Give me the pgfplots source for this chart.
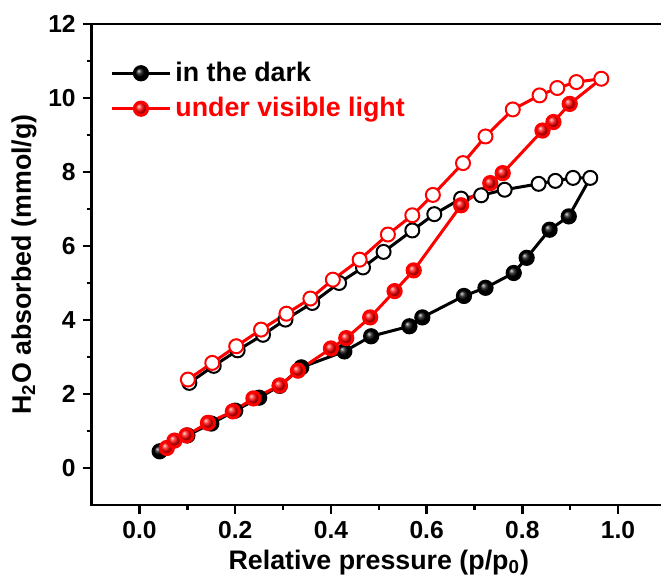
\documentclass[border=0pt]{standalone}
\usepackage{fontspec}
\setmainfont{Liberation Sans}
\usepackage{pgfplots}
\pgfplotsset{compat=1.18}

\pgfplotstableread{
x y
0.042 0.45
0.100 0.88
0.150 1.20
0.200 1.55
0.250 1.90
0.293 2.22
0.338 2.72
0.428 3.15
0.484 3.56
0.564 3.83
0.591 4.07
0.678 4.65
0.723 4.87
0.782 5.27
0.809 5.68
0.857 6.44
0.897 6.80
}\darkads

\pgfplotstableread{
x y
0.942 7.84
0.906 7.84
0.869 7.76
0.834 7.68
0.763 7.52
0.714 7.37
0.672 7.28
0.616 6.86
0.570 6.42
0.510 5.84
0.467 5.42
0.417 5.00
0.361 4.46
0.305 4.01
0.258 3.60
0.205 3.18
0.155 2.76
0.104 2.30
}\darkdes

\pgfplotstableread{
x y
0.057 0.54
0.073 0.74
0.098 0.88
0.143 1.22
0.195 1.53
0.238 1.88
0.293 2.23
0.331 2.63
0.400 3.23
0.432 3.51
0.482 4.07
0.533 4.78
0.573 5.34
0.672 7.10
0.733 7.70
0.759 7.97
0.842 9.12
0.865 9.35
0.899 9.84
}\lightads

\pgfplotstableread{
x y
0.965 10.52
0.913 10.43
0.873 10.27
0.836 10.07
0.780 9.69
0.723 8.96
0.676 8.24
0.613 7.38
0.570 6.83
0.519 6.31
0.460 5.63
0.404 5.09
0.357 4.58
0.307 4.17
0.254 3.74
0.202 3.29
0.152 2.84
0.101 2.39
}\lightdes

\begin{document}
\begin{tikzpicture}
\begin{axis}[
  at={(0,0)}, anchor=south west,
  scale only axis, width=287.1pt, height=240.5pt,
  xmin=-0.1, xmax=1.1, ymin=-1, ymax=12,
  xtick={0,0.2,...,1.0}, ytick={0,2,...,12},
  minor x tick num=1, minor y tick num=1,
  tick pos=left, tick align=outside,
  major tick length=4.5pt, minor tick length=2.5pt,
  every tick/.style={black, line width=1.2pt},
  axis line style={line width=1.3pt},
  /pgf/number format/assume math mode=true,
  xticklabel style={/pgf/number format/.cd, fixed, fixed zerofill, precision=1},
  tick label style={font=\fontsize{12.3}{14}\selectfont\bfseries},
  label style={font=\fontsize{13.4}{15}\selectfont\bfseries},
  xlabel style={yshift=1pt},
  ylabel style={yshift=-1pt},
  xlabel={Relative pressure (p/p\textsubscript{0})},
  ylabel={H\textsubscript{2}O absorbed (mmol/g)},
  legend style={draw=none, fill=none, at={(axis description cs:0.032,0.93)}, anchor=north west,
    font=\fontsize{13.4}{15}\selectfont\bfseries, row sep=2.5pt, inner sep=0pt},
  legend cell align=left,
  legend image code/.code={\draw[#1, mark repeat=2, mark phase=2] plot coordinates {(0pt,0pt) (14.5pt,0pt) (29pt,0pt)};},
  every axis plot/.append style={line width=1.5pt},
]
% adsorption branch, dark
\addplot[black, mark=ball, mark size=3.3pt, mark options={ball color=black}] table {\darkads};
\addlegendentry{in the dark}
\addplot[black, forget plot] coordinates {(0.897,6.80) (0.942,7.84)};
% desorption branch, dark
\addplot[black, mark=*, mark size=3.5pt, mark options={fill=white, line width=1pt}, forget plot] table {\darkdes};
% adsorption branch, visible light
\addplot[red, mark=ball, mark size=3.3pt, mark options={ball color=red}] table {\lightads};
\addlegendentry{\textcolor{red}{under visible light}}
\addplot[red, forget plot] coordinates {(0.899,9.84) (0.965,10.52)};
% desorption branch, visible light
\addplot[red, mark=*, mark size=3.5pt, mark options={fill=white, line width=1pt}, forget plot] table {\lightdes};
\end{axis}
\pgfresetboundingbox
\path (-45.85pt,-38pt) rectangle (284.65pt,252.5pt);
\end{tikzpicture}
\end{document}
